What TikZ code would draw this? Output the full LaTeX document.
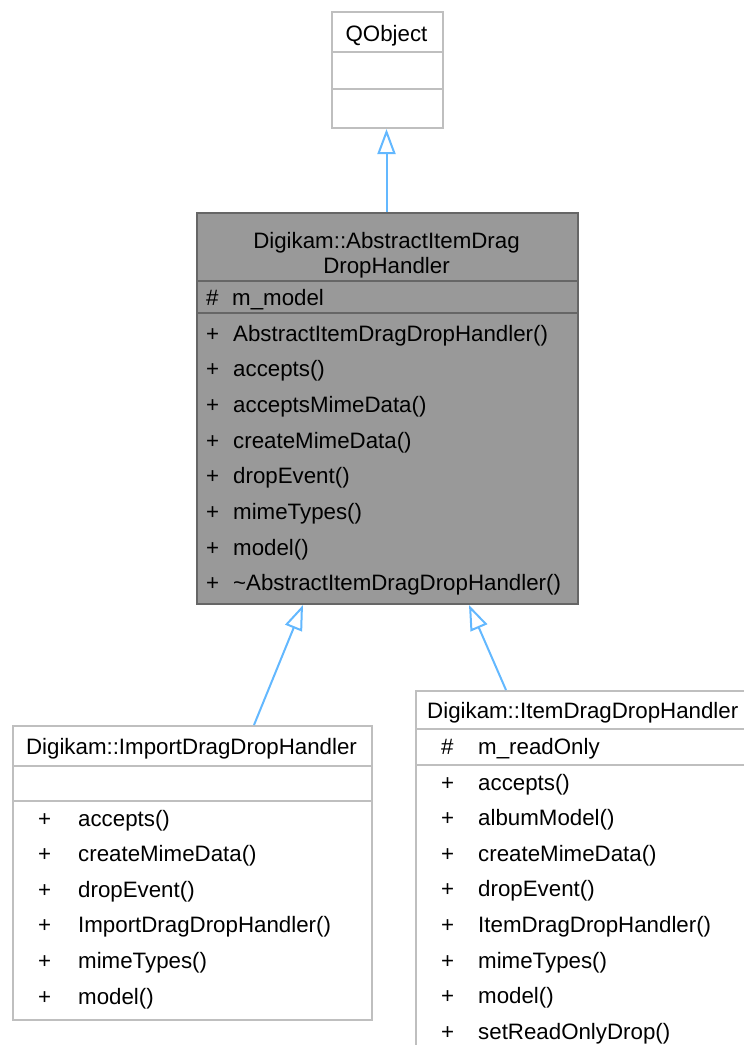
\documentclass[tikz,border=0pt]{standalone}
\usepackage{fontspec}
\setmainfont{Liberation Sans}
\usetikzlibrary{arrows.meta,calc}
\definecolor{edgeblue}{HTML}{63B8FF}
\definecolor{lightborder}{HTML}{BFBFBF}
\definecolor{darkborder}{HTML}{666666}
\definecolor{darkfill}{HTML}{999999}
\begin{document}
\begin{tikzpicture}[x=1bp,y=-1bp,
  box/.style={draw=lightborder,line width=2bp,fill=white,anchor=north west,inner sep=0pt},
  darkbox/.style={draw=darkborder,line width=2bp,fill=darkfill,anchor=north west,inner sep=0pt},
  sepl/.style={draw=lightborder,line width=2bp},
  sepd/.style={draw=darkborder,line width=2bp},
  txt/.style={font=\fontsize{22.3bp}{26bp}\selectfont,inner sep=0pt,anchor=base west},
  ctxt/.style={font=\fontsize{22.3bp}{26bp}\selectfont,inner sep=0pt,anchor=base},
  inherit/.style={draw=edgeblue,line width=2bp,-{Triangle[open,length=25bp,width=18bp,line width=2bp]}}
]
\useasboundingbox (0,0) rectangle (744,1045);
\begin{scope}
\clip (0,0) rectangle (744,1045);
% QObject
\node[box,minimum width=111bp,minimum height=116bp] (qobj) at (331,11) {};
\draw[sepl] (331,52) -- (442,52);
\draw[sepl] (331,89) -- (442,89);
\node[ctxt] (qobjt) at (386.5,41) {QObject};

% Abstract
\node[darkbox,minimum width=381bp,minimum height=391bp] (abs) at (196,212) {};
\draw[sepd] (196,281) -- (577,281);
\draw[sepd] (196,313) -- (577,313);
\node[ctxt] (abst1) at (386.5,248) {Digikam::AbstractItemDrag};
\node[ctxt] (abst2) at (386.5,273) {DropHandler};
\node[txt] (absa0) at (206,305) {\#};
\node[txt] (absa0n) at (232,305) {m\_model};
\foreach \i/\t in {0/AbstractItemDragDropHandler(),1/accepts(),2/acceptsMimeData(),3/createMimeData(),4/dropEvent(),5/mimeTypes(),6/model(),7/\textasciitilde AbstractItemDragDropHandler()}{
  \node[txt] (absp\i) at (206,341+35.7*\i) {+};
  \node[txt] (absm\i) at (233,341+35.7*\i) {\t};
}

% Import
\node[box,minimum width=359bp,minimum height=294bp] (imp) at (12,725) {};
\draw[sepl] (12,766) -- (371,766);
\draw[sepl] (12,801) -- (371,801);
\node[ctxt] (impt) at (191.5,754) {Digikam::ImportDragDropHandler};
\foreach \i/\t in {0/accepts(),1/createMimeData(),2/dropEvent(),3/ImportDragDropHandler(),4/mimeTypes(),5/model()}{
  \node[txt] (impp\i) at (38,826+35.6*\i) {+};
  \node[txt] (impm\i) at (78,826+35.6*\i) {\t};
}

% Item
\node[box,minimum width=345bp,minimum height=380bp] (item) at (415,690) {};
\draw[sepl] (415,729) -- (760,729);
\draw[sepl] (415,765) -- (760,765);
\node[txt] (itemt) at (427,718) {Digikam::ItemDragDropHandler};
\node[txt] (itema0) at (441,754) {\#};
\node[txt] (itema0n) at (478,754) {m\_readOnly};
\foreach \i/\t in {0/accepts(),1/albumModel(),2/createMimeData(),3/dropEvent(),4/ItemDragDropHandler(),5/mimeTypes(),6/model(),7/setReadOnlyDrop()}{
  \node[txt] (itemp\i) at (441,790+35.6*\i) {+};
  \node[txt] (itemm\i) at (478,790+35.6*\i) {\t};
}
\end{scope}

% connectors
\coordinate (absTop) at ($(abs.north west)+(190.5,0)$);
\coordinate (qobjBot) at ($(qobj.south west)+(55.5,0)$);
\coordinate (impTop) at ($(imp.north west)+(242,0)$);
\coordinate (absBotL) at ($(abs.south west)+(107,0)$);
\coordinate (itemTop) at ($(item.north west)+(91,0)$);
\coordinate (absBotR) at ($(abs.south west)+(273,0)$);
\draw[inherit] (absTop) -- (qobjBot);
\draw[inherit] (impTop) -- (absBotL);
\draw[inherit] (itemTop) -- (absBotR);
\end{tikzpicture}
\end{document}
